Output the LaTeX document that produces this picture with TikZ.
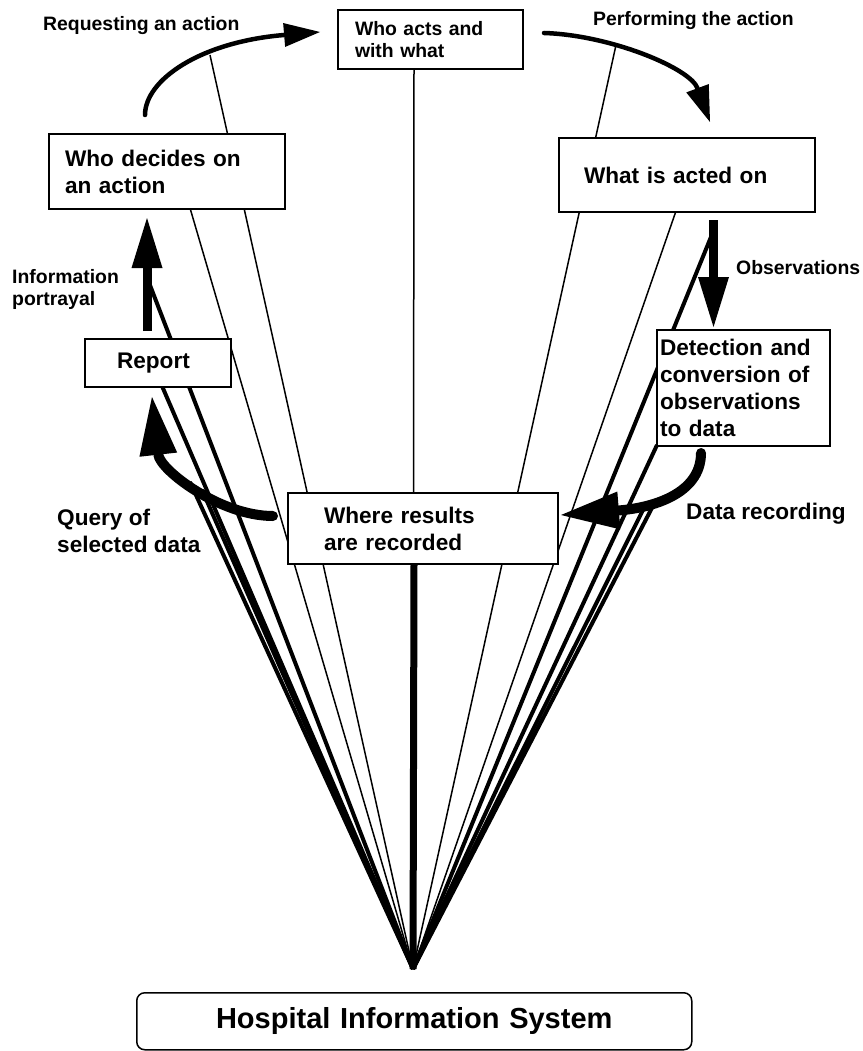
\documentclass[tikz,border=0pt]{standalone}
\usepackage{fontspec}
\setmainfont{Liberation Sans}
\usetikzlibrary{arrows.meta}
\newcommand\smallfnt{\fontsize{19.4}{22}\selectfont\bfseries}
\newcommand\bigfnt{\fontsize{22.6}{27}\selectfont\bfseries}
\newcommand\hugefnt{\fontsize{29}{34}\selectfont\bfseries}
\begin{document}
\begin{tikzpicture}[x=1pt,y=-1pt,
  box/.style={draw, line width=2pt, fill=white, rectangle, anchor=north west, inner ysep=0pt, align=left},
  lbl/.style={inner sep=0pt, align=left},
  thinline/.style={line width=1.5pt},
  thickline/.style={line width=4pt},
  curvearrow/.style={line width=4.5pt, line cap=round, -{Triangle[length=36pt,width=24pt,line width=0pt]}},
  straightarrow/.style={line width=9pt, -{Triangle[length=50pt,width=31pt,line width=0pt]}},
  bigarrow/.style={line width=10pt, line cap=round, -{Triangle[length=58pt,width=38pt,line width=0pt]}}]
\useasboundingbox (0,0) rectangle (862,1051);

% arrows
\coordinate (reqS) at (145,115); \coordinate (reqE) at (320,32);
\coordinate (perS) at (544,33);  \coordinate (perE) at (710,122);
\coordinate (infS) at (147,331); \coordinate (infE) at (147,218);
\coordinate (obsS) at (713.5,220); \coordinate (obsE) at (713.5,327);
\coordinate (qryS) at (273,516); \coordinate (qryE) at (152,397);
\coordinate (recS) at (701,453); \coordinate (recE) at (561,515);
\draw[curvearrow] (reqS) .. controls (145,80) and (200,42) .. (reqE);
\draw[curvearrow] (perS) .. controls (610,35) and (690,68) .. (perE);
\draw[straightarrow] (infS) -- (infE);
\draw[straightarrow] (obsS) -- (obsE);
\draw[bigarrow] (qryS) .. controls (220,516) and (160,470) .. (qryE);
\draw[bigarrow] (recS) .. controls (701,495) and (650,508) .. (recE);

% fan of lines
\coordinate (apex) at (413,969);
\coordinate (t1) at (210,55);
\coordinate (t2) at (190,208);
\coordinate (t3) at (414,68);
\coordinate (t4) at (616,45);
\coordinate (t5) at (676,211);
\coordinate (k1) at (148,280);
\coordinate (k2) at (162,386);
\coordinate (k3) at (190,482);
\coordinate (k4) at (202,490);
\coordinate (k5) at (713,232);
\coordinate (k6) at (657,445);
\coordinate (k7) at (645,506);
\coordinate (k8) at (655,502);
\coordinate (k9) at (414,563);
\foreach \p in {t1,t2,t3,t4,t5} \draw[thinline] (\p) -- (apex);
\foreach \p in {k1,k2,k3,k4,k5,k6,k7,k8} \draw[thickline] (\p) -- (apex);
\draw[line width=7pt] (k9) -- (apex);

% boxes
\node[box, font=\smallfnt, minimum width=185pt, minimum height=59pt, inner xsep=17pt, text width=151pt] (whoacts) at (337,9) {Who acts and\\with what};
\node[box, font=\bigfnt, minimum width=236pt, minimum height=75pt, inner xsep=16pt, text width=204pt] (decides) at (48,133) {Who decides on\\an action};
\node[box, font=\bigfnt, minimum width=146pt, minimum height=48pt, inner xsep=32pt, text width=82pt] (report) at (84,338) {Report};
\node[box, font=\bigfnt, minimum width=256pt, minimum height=74pt, inner xsep=25pt, text width=206pt] (acted) at (558,137) {What is acted on};
\node[box, font=\bigfnt, minimum width=173pt, minimum height=116pt, inner xsep=3pt, text width=167pt] (detect) at (656,329) {Detection and\\conversion of\\observations\\to data};
\node[box, font=\bigfnt, minimum width=270pt, minimum height=71pt, inner xsep=36pt, text width=198pt] (where) at (287,492) {Where results\\are recorded};
\node[box, font=\hugefnt, rounded corners=8pt, line width=1.5pt, minimum width=555pt, minimum height=57pt, inner xsep=10pt, text width=535pt, align=center] (his) at (136,992) {Hospital Information System};

% labels
\node[lbl, font=\smallfnt, anchor=base west] (reqL) at (43,31) {Requesting an action};
\node[lbl, font=\smallfnt, anchor=base west] (perL) at (593,26) {Performing the action};
\node[lbl, font=\smallfnt, anchor=north west] (infL) at (12,268.8) {Information\\portrayal};
\node[lbl, font=\smallfnt, anchor=base west] (obsL) at (736,274) {Observations};
\node[lbl, font=\bigfnt, anchor=north west] (qryL) at (57,508.5) {Query of\\selected data};
\node[lbl, font=\bigfnt, anchor=base west] (recL) at (686,519) {Data recording};
\end{tikzpicture}
\end{document}
